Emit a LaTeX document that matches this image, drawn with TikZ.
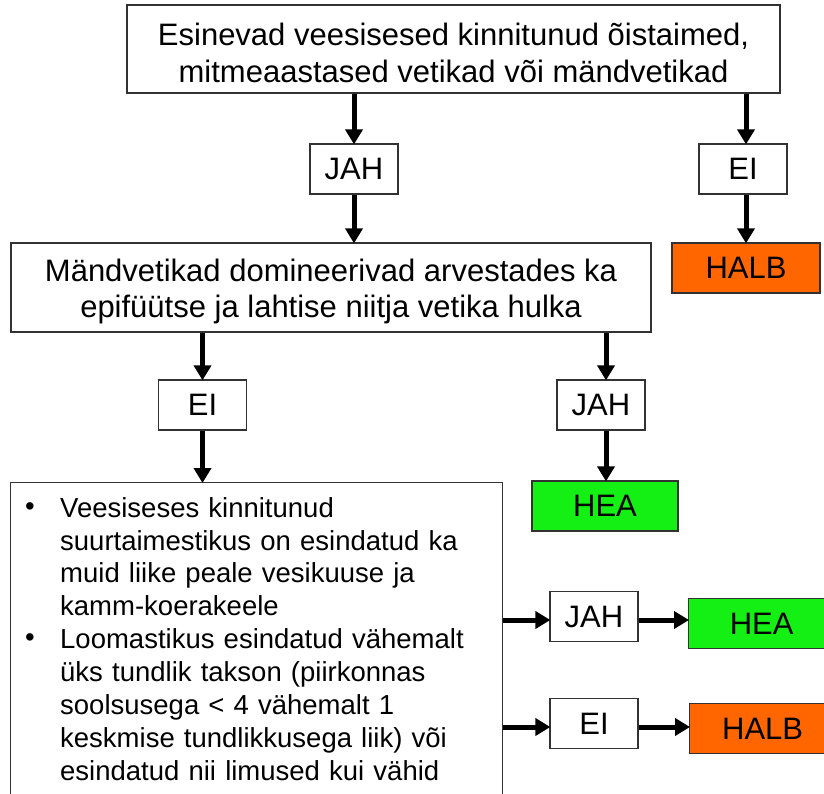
\documentclass[tikz,border=0pt]{standalone}
\usepackage{fontspec}
\setmainfont{Liberation Sans}
\usetikzlibrary{arrows.meta}
\definecolor{halb}{RGB}{255,102,0}
\definecolor{hea}{RGB}{20,240,20}
\definecolor{edge}{RGB}{50,50,50}
\tikzset{
  box/.style={draw=edge, line width=1.3pt, fill=white, inner sep=0pt, align=center,
              font=\fontsize{31}{37}\selectfont},
  answer/.style={box, minimum width=88pt, minimum height=50pt},
  verdict/.style={box, minimum height=50pt},
  flow/.style={line width=5pt, -{Triangle[width=17pt,length=15pt]}, shorten >=-1pt}
}
\begin{document}
\begin{tikzpicture}[x=1pt,y=-1pt]
\useasboundingbox (0,0) rectangle (824,793);
\clip (0,0) rectangle (824,793);
% question boxes
\node[box, minimum width=653pt, minimum height=88pt] (q1) at (453.5,49) {};
\node[inner sep=0pt, align=center, font=\fontsize{31}{37}\selectfont] (q1text) at (453.5,53)
  {Esinevad veesisesed kinnitunud õistaimed,\\mitmeaastased vetikad või mändvetikad};
\node[box, minimum width=640pt, minimum height=89pt] (q2) at (331,287.5) {};
\node[inner sep=0pt, align=center, font=\fontsize{31}{36}\selectfont] (q2text) at (331,291)
  {Mändvetikad domineerivad arvestades ka\\epifüütse ja lahtise niitja vetika hulka};
\node[draw=edge, line width=1.3pt, minimum width=492pt, minimum height=340pt,
      anchor=north west, inner sep=0pt] (q3) at (10,482) {};
% bullet list inside the third box
\node[anchor=north west, inner sep=0pt, align=left, text width=435pt,
      font=\fontsize{27.5}{32.9}\selectfont] (q3text) at (60,497)
  {Veesiseses kinnitunud\\suurtaimestikus on esindatud ka\\muid liike peale vesikuuse ja\\kamm-koerakeele\\
   Loomastikus esindatud vähemalt\\üks tundlik takson (piirkonnas\\soolsusega < 4 vähemalt 1\\keskmise tundlikkusega liik) või\\esindatud nii limused kui vähid};
\node[font=\fontsize{27.5}{30}\selectfont, inner sep=0pt] (b1) at (30,509) {•};
\node[font=\fontsize{27.5}{30}\selectfont, inner sep=0pt] (b2) at (30,640) {•};
% answers
\node[answer] (a1) at (354,169) {JAH};
\node[answer] (a2) at (743,169) {EI};
\node[answer] (a3) at (202.5,405) {EI};
\node[answer] (a4) at (601,405) {JAH};
\node[answer] (a5) at (594,616.5) {JAH};
\node[answer] (a6) at (594,723.5) {EI};
% verdicts
\node[verdict, fill=halb, minimum width=148pt] (v1) at (746,268) {HALB};
\node[verdict, fill=hea, minimum width=146pt] (v2) at (605,506) {HEA};
\node[verdict, fill=hea, minimum width=146pt, anchor=west] (v3) at (688,623.5) {HEA};
\node[verdict, fill=halb, minimum width=146pt, anchor=west] (v4) at (689,728.5) {HALB};
% connectors
\draw[flow] (q1.south -| a1) -- (a1);
\draw[flow] (a1) -- (a1 |- q2.north);
\draw[flow] (q1.south -| v1) -- (a2.north -| v1);
\draw[flow] (a2.south -| v1) -- (v1);
\draw[flow] (q2.south -| a3) -- (a3);
\draw[flow] (a3) -- (a3 |- q3.north);
\draw[flow] (q2.south -| 606,0) -- (a4.north -| 606,0);
\draw[flow] (a4.south -| 606,0) -- (v2.north -| 606,0);
\draw[flow] (q3.east |- 0,620) -- (a5.west |- 0,620);
\draw[flow] (a5.east |- 0,620) -- (v3.west |- 0,620);
\draw[flow] (q3.east |- 0,727) -- (a6.west |- 0,727);
\draw[flow] (a6.east |- 0,727) -- (v4.west |- 0,727);
\end{tikzpicture}
\end{document}
